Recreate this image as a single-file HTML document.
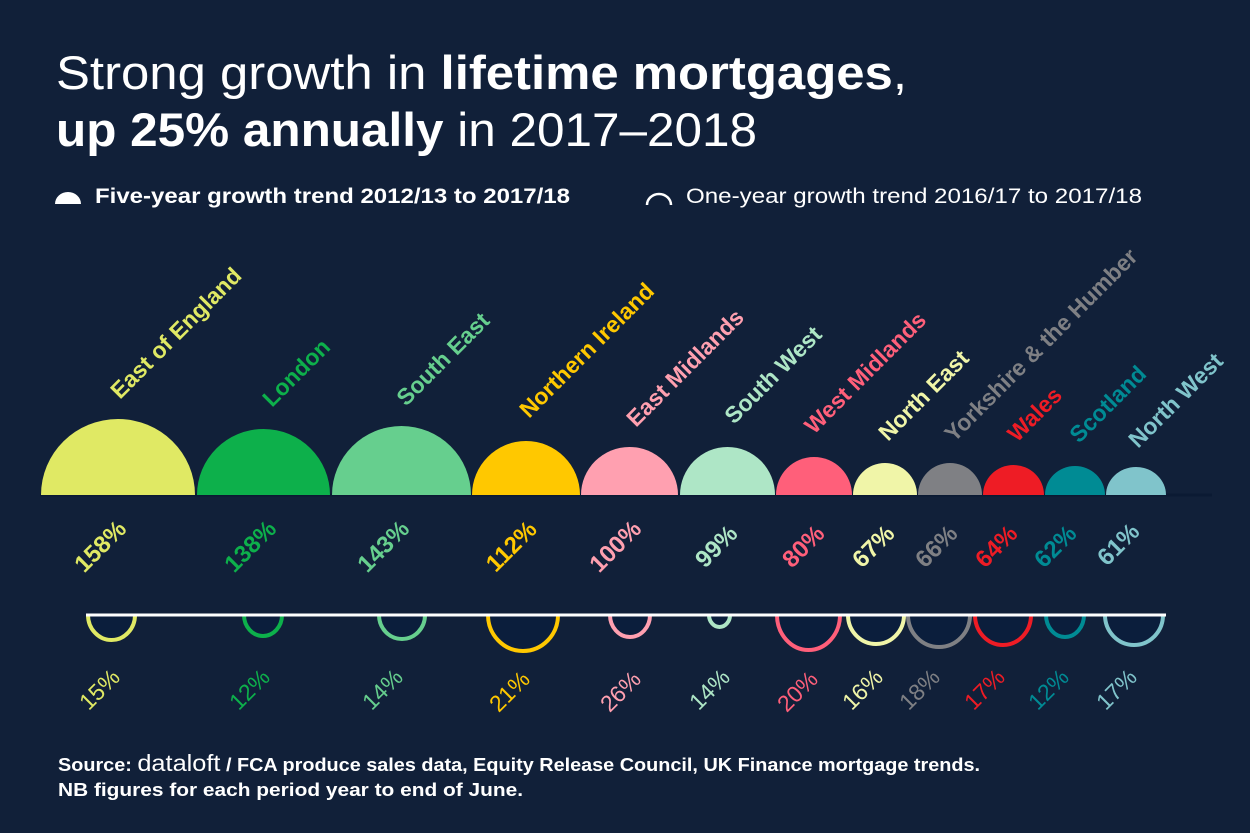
<!DOCTYPE html>
<html><head><meta charset="utf-8"><style>
body{margin:0;background:#112039;}
svg{display:block}
text{font-family:"Liberation Sans",sans-serif}
</style></head><body>
<svg width="1250" height="833" viewBox="0 0 1250 833">
<rect width="1250" height="833" fill="#112039"/>
<text x="56" y="89" font-size="47" fill="#fff" textLength="851" lengthAdjust="spacingAndGlyphs">Strong growth in <tspan font-weight="bold">lifetime mortgages</tspan>,</text>
<text x="56" y="146" font-size="47" fill="#fff" textLength="701" lengthAdjust="spacingAndGlyphs"><tspan font-weight="bold">up 25% annually</tspan> in 2017–2018</text>
<path d="M55 204 A13 12 0 0 1 81 204 Z" fill="#fff"/>
<text x="95" y="203" font-size="21" font-weight="bold" fill="#fff" textLength="475" lengthAdjust="spacingAndGlyphs">Five-year growth trend 2012/13 to 2017/18</text>
<path d="M647 205 A12 11 0 0 1 671 205" fill="none" stroke="#fff" stroke-width="2.5"/>
<text x="686" y="203" font-size="21" fill="#fff" textLength="456" lengthAdjust="spacingAndGlyphs">One-year growth trend 2016/17 to 2017/18</text>
<line x1="40" y1="495" x2="1212" y2="495" stroke="#0b1a33" stroke-width="3"/>
<g id="domes">
<path d="M41 495 A77 76 0 0 1 195 495Z" fill="#e0e964"/>
<path d="M197 495 A66.5 66 0 0 1 330 495Z" fill="#0db04b"/>
<path d="M332 495 A69.5 69 0 0 1 471 495Z" fill="#66cf8e"/>
<path d="M472 495 A54 54 0 0 1 580 495Z" fill="#ffc800"/>
<path d="M581 495 A48.5 48 0 0 1 678 495Z" fill="#ffa0b0"/>
<path d="M680 495 A47.5 48 0 0 1 775 495Z" fill="#aee6c6"/>
<path d="M776 495 A38 38 0 0 1 852 495Z" fill="#ff5f7a"/>
<path d="M853 495 A32 32 0 0 1 917 495Z" fill="#f0f5a8"/>
<path d="M918 495 A32 32 0 0 1 982 495Z" fill="#7f8084"/>
<path d="M983 495 A30.5 30 0 0 1 1044 495Z" fill="#ee1c25"/>
<path d="M1045 495 A30 29 0 0 1 1105 495Z" fill="#008b94"/>
<path d="M1106 495 A30 28 0 0 1 1166 495Z" fill="#80c4cb"/>
</g>
<g font-size="23" font-weight="bold">
<text transform="translate(120,400) rotate(-45)" fill="#e0e964">East of England</text>
<text transform="translate(272,408) rotate(-45)" fill="#0db04b">London</text>
<text transform="translate(406,407) rotate(-45)" fill="#66cf8e">South East</text>
<text transform="translate(529,419) rotate(-45)" fill="#ffc800">Northern Ireland</text>
<text transform="translate(636,428) rotate(-45)" fill="#ffa0b0">East Midlands</text>
<text transform="translate(734,425) rotate(-45)" fill="#aee6c6">South West</text>
<text transform="translate(814,435) rotate(-45)" fill="#ff5f7a">West Midlands</text>
<text transform="translate(888,442) rotate(-45)" fill="#f0f5a8">North East</text>
<text transform="translate(954,443) rotate(-45)" fill="#7f8084">Yorkshire &amp; the Humber</text>
<text transform="translate(1017,443) rotate(-45)" fill="#ee1c25">Wales</text>
<text transform="translate(1079,444) rotate(-45)" fill="#008b94">Scotland</text>
<text transform="translate(1138,449) rotate(-45)" fill="#80c4cb">North West</text>
</g>
<g font-size="24" font-weight="bold" text-anchor="middle">
<text transform="translate(106,552) rotate(-45)" fill="#e0e964">158%</text>
<text transform="translate(256,552) rotate(-45)" fill="#0db04b">138%</text>
<text transform="translate(389,552) rotate(-45)" fill="#66cf8e">143%</text>
<text transform="translate(517,552) rotate(-45)" fill="#ffc800">112%</text>
<text transform="translate(621,552) rotate(-45)" fill="#ffa0b0">100%</text>
<text transform="translate(722,552) rotate(-45)" fill="#aee6c6">99%</text>
<text transform="translate(809,552) rotate(-45)" fill="#ff5f7a">80%</text>
<text transform="translate(879,552) rotate(-45)" fill="#f0f5a8">67%</text>
<text transform="translate(942,552) rotate(-45)" fill="#7f8084">66%</text>
<text transform="translate(1002,552) rotate(-45)" fill="#ee1c25">64%</text>
<text transform="translate(1061,552) rotate(-45)" fill="#008b94">62%</text>
<text transform="translate(1124,550) rotate(-45)" fill="#80c4cb">61%</text>
</g>
<g fill="#0b1e3c" stroke-width="4">
<path d="M88 615 A23.5 25 0 0 0 135 615" stroke="#e0e964"/>
<path d="M244 615 A19 21 0 0 0 282 615" stroke="#0db04b"/>
<path d="M379 615 A23 24 0 0 0 425 615" stroke="#66cf8e"/>
<path d="M488 615 A35 36 0 0 0 558 615" stroke="#ffc800"/>
<path d="M610 615 A20 22 0 0 0 650 615" stroke="#ffa0b0"/>
<path d="M709 615 A10.5 12 0 0 0 730 615" stroke="#aee6c6"/>
<path d="M777 615 A31.5 35 0 0 0 840 615" stroke="#ff5f7a"/>
<path d="M848 615 A28 29 0 0 0 904 615" stroke="#f0f5a8"/>
<path d="M908 615 A31 32 0 0 0 970 615" stroke="#7f8084"/>
<path d="M975 615 A28 30 0 0 0 1031 615" stroke="#ee1c25"/>
<path d="M1046 615 A19 22 0 0 0 1084 615" stroke="#008b94"/>
<path d="M1105 615 A29 30 0 0 0 1163 615" stroke="#80c4cb"/>
</g>
<line x1="86" y1="615" x2="1166" y2="615" stroke="#fff" stroke-width="3"/>
<g font-size="23" font-weight="300" text-anchor="middle">
<text transform="translate(105,695) rotate(-45)" fill="#e0e964">15%</text>
<text transform="translate(255,695) rotate(-45)" fill="#0db04b">12%</text>
<text transform="translate(388,695) rotate(-45)" fill="#66cf8e">14%</text>
<text transform="translate(515,697) rotate(-45)" fill="#ffc800">21%</text>
<text transform="translate(626,697) rotate(-45)" fill="#ffa0b0">26%</text>
<text transform="translate(715,695) rotate(-45)" fill="#aee6c6">14%</text>
<text transform="translate(803,697) rotate(-45)" fill="#ff5f7a">20%</text>
<text transform="translate(868,695) rotate(-45)" fill="#f0f5a8">16%</text>
<text transform="translate(925,695) rotate(-45)" fill="#7f8084">18%</text>
<text transform="translate(990,695) rotate(-45)" fill="#ee1c25">17%</text>
<text transform="translate(1054,695) rotate(-45)" fill="#008b94">12%</text>
<text transform="translate(1122,695) rotate(-45)" fill="#80c4cb">17%</text>
</g>
<text x="58" y="771" font-size="18" font-weight="bold" fill="#fff" textLength="922" lengthAdjust="spacingAndGlyphs">Source: <tspan font-weight="normal" font-size="23">dataloft</tspan> / FCA produce sales data, Equity Release Council, UK Finance mortgage trends.</text>
<text x="58" y="796" font-size="18" font-weight="bold" fill="#fff" textLength="465" lengthAdjust="spacingAndGlyphs">NB figures for each period year to end of June.</text>
</svg>
</body></html>
